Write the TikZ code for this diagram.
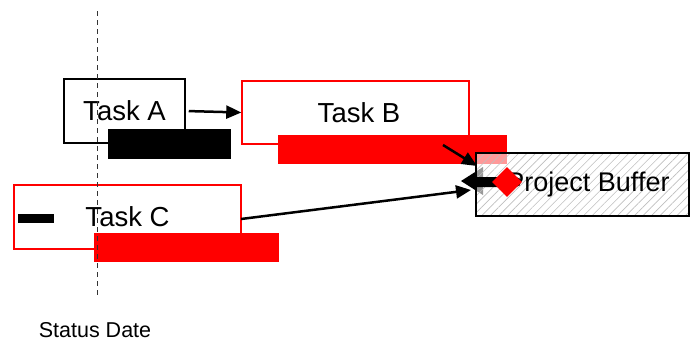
\documentclass[tikz,border=0pt]{standalone}
\usepackage{fontspec}
\setmainfont{Liberation Sans}
\usetikzlibrary{arrows.meta,patterns.meta,shapes.geometric}

\tikzset{
  taskbox/.style={draw, line width=1.5pt, minimum height=64pt, inner sep=0pt,
    font=\fontsize{27.5}{30}\selectfont},
  critbox/.style={taskbox, draw=red},
  planbar/.style={fill, inner sep=0pt, minimum height=29pt},
  link/.style={line width=2.5pt, -{Triangle[length=15pt,width=13pt]}},
}

\begin{document}
\begin{tikzpicture}[x=1pt,y=-1pt]
  \useasboundingbox (0,0) rectangle (690,341);

  % tasks with their bars
  \node[taskbox, minimum width=121pt] (taskA) at (124.5,111) {\raisebox{-2pt}{Task A}};
  \node[planbar, black, minimum width=123pt, minimum height=30pt] (barA) at (169.5,144) {};

  \node[critbox, minimum width=227pt, minimum height=63pt] (taskB) at (355.5,112.5) {\raisebox{-1pt}{\hspace*{7pt}Task B}};
  \node[planbar, red, minimum width=229pt] (barB) at (392.5,149.5) {};

  \node[critbox, minimum width=227pt] (taskC) at (127.5,217) {\raisebox{0pt}{Task C}};
  \node[planbar, red, minimum width=185pt] (barC) at (186.5,247.5) {};
  \node[planbar, black, minimum width=36pt, minimum height=9pt] (doneC) at (36,218.5) {};

  % links
  \coordinate (fromB) at (443,145);
  \coordinate (toBufB) at (477,166);
  \coordinate (fromC) at (241,219);
  \coordinate (toBufC) at (471,190);
  \draw[link, shorten <=3pt] (taskA.east) -- (taskB.west);
  \draw[link] (fromB) -- (toBufB);
  \draw[link] (fromC) -- (toBufC);

  % arrow head under the buffer
  \fill (461,181) -- (483,167) -- (483,195) -- cycle;

  % buffer
  \node[draw, line width=1.5pt, minimum width=213pt, minimum height=63pt,
    preaction={fill=white, fill opacity=0.6},
    preaction={pattern={Lines[angle=45,distance=6pt,line width=0.6pt]}, pattern color=black!25},
    font=\fontsize{27}{30}\selectfont] (buffer) at (582.5,184.5) {\hspace*{11pt}Project Buffer};

  \fill (476,177) -- (516,177) arc (-90:90:5) -- (476,187) -- cycle;
  \node[diamond, fill=red, minimum size=30pt, inner sep=0pt] (milestone) at (507,182) {};

  % status date
  \coordinate (statTop) at (97.5,11);
  \coordinate (statBot) at (97.5,295);
  \draw[line width=1pt, black!80, dash pattern=on 5pt off 4pt] (statTop) -- (statBot);
  \node[font=\fontsize{21.5}{24}\selectfont] (status) at (95,330) {Status Date};
\end{tikzpicture}
\end{document}
